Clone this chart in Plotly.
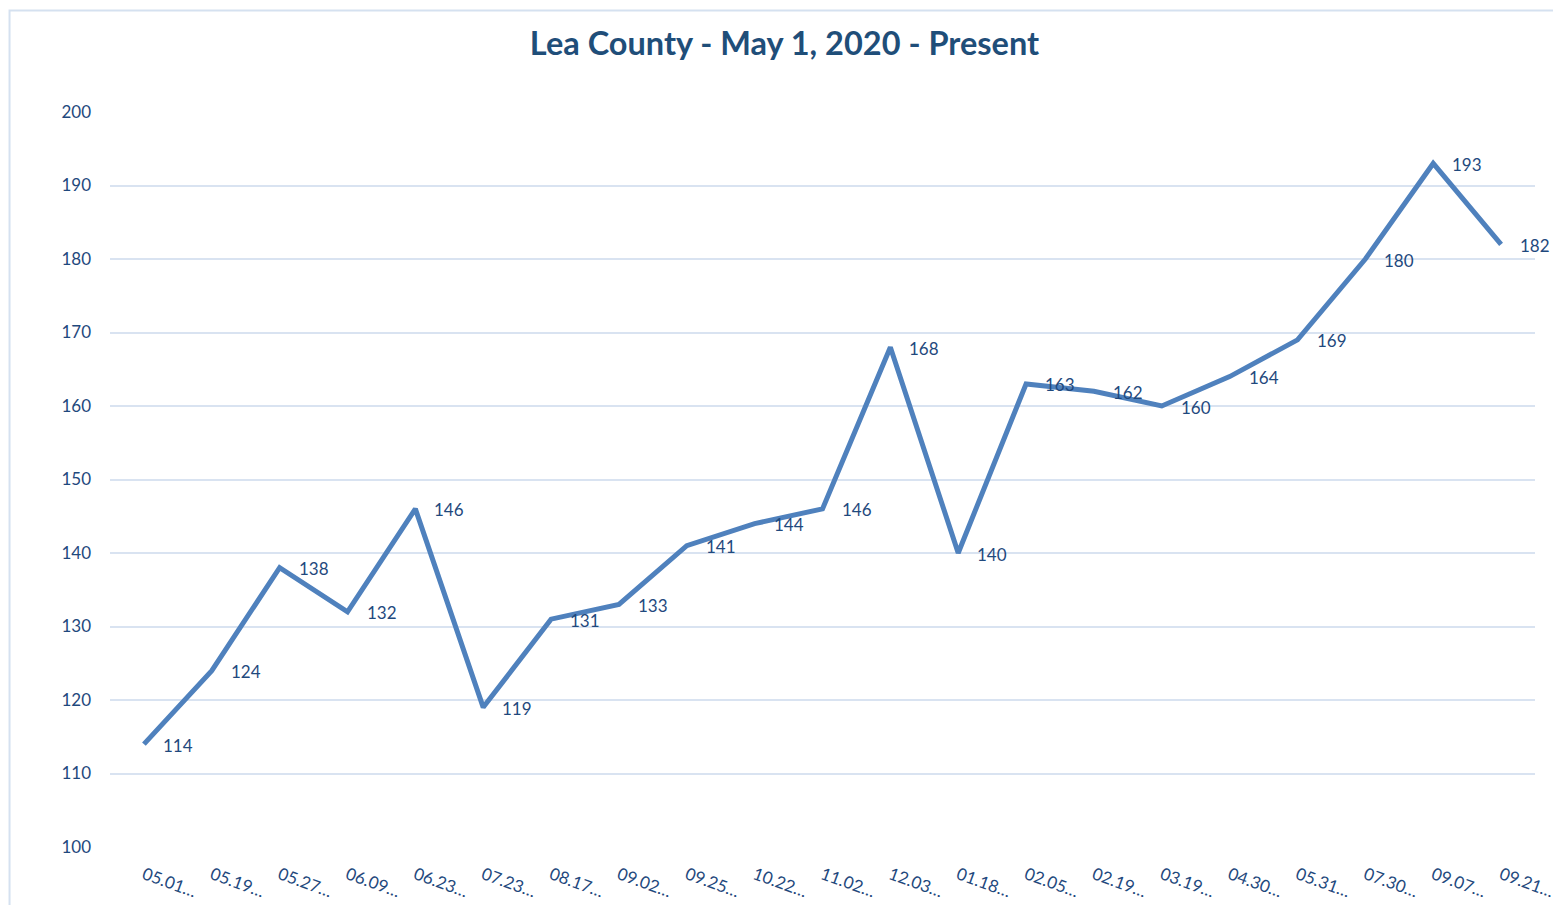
import plotly.graph_objects as go

categories = ["05.01…", "05.19…", "05.27…", "06.09…", "06.23…", "07.23…", "08.17…",
              "09.02…", "09.25…", "10.22…", "11.02…", "12.03…", "01.18…", "02.05…",
              "02.19…", "03.19…", "04.30…", "05.31…", "07.30…", "09.07…", "09.21…"]
values = [114, 124, 138, 132, 146, 119, 131, 133, 141, 144, 146, 168, 140, 163,
          162, 160, 164, 169, 180, 193, 182]
y_ticks = [100, 110, 120, 130, 140, 150, 160, 170, 180, 190, 200]

FONT = "Lato"
TXT = "#1F497D"

W, H = 1553, 897  # page body has an 8px margin

fig = go.Figure()
fig.add_trace(go.Scatter(
    x=list(range(len(categories))), y=values, mode="lines",
    line=dict(color="#4F81BD", width=5), hoverinfo="skip", showlegend=False,
))

for i, v in enumerate(values):
    fig.add_annotation(x=i, y=v, xref="x", yref="y", text=str(v), showarrow=False,
                       xanchor="left", yanchor="middle", xshift=17, yshift=-1,
                       font=dict(family=FONT, size=17, color=TXT))

fig.add_shape(type="rect", xref="paper", yref="paper",
              x0=-0.0705, x1=1.0155, y0=-0.09, y1=1.138,
              line=dict(color="#D5E1F0", width=2), layer="below")

fig.update_layout(
    width=W, height=H,
    margin=dict(l=102, r=26, t=104, b=58),
    paper_bgcolor="white", plot_bgcolor="white",
    title=dict(text="<b>Lea County - May 1, 2020 - Present</b>", x=0.5, xanchor="center",
               y=1 - 36 / H, yanchor="middle",
               font=dict(family=FONT, size=32.5, color="#1F4E79")),
    xaxis=dict(range=[-0.5, len(categories) - 0.5], tickmode="array",
               tickvals=list(range(len(categories))), ticktext=categories,
               tickangle=20, showgrid=False, zeroline=False, showline=False,
               ticks="", ticklabelstandoff=14, automargin=False,
               tickfont=dict(family=FONT, size=17, color=TXT)),
    yaxis=dict(range=[100, 200], tickmode="array", tickvals=y_ticks,
               showgrid=True, gridcolor="#D9E3F1", gridwidth=1.5, automargin=False,
               zeroline=False, showline=False, ticks="", ticklabelstandoff=18,
               tickfont=dict(family=FONT, size=17, color=TXT)),
    font=dict(family=FONT),
)

fig.write_html("out.html")
